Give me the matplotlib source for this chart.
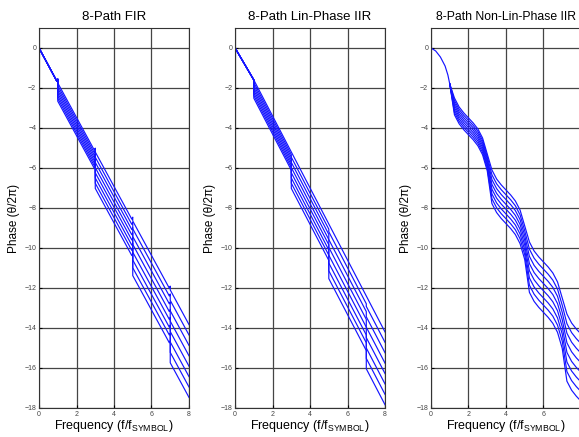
import matplotlib
matplotlib.use("Agg")
import matplotlib.pyplot as plt

plt.rcParams['font.family'] = ['Liberation Sans', 'DejaVu Sans']
plt.rcParams['mathtext.fontset'] = 'custom'
plt.rcParams['mathtext.rm'] = 'Liberation Sans'
plt.rcParams['mathtext.it'] = 'Liberation Sans'

titles = ["8-Path FIR", "8-Path Lin-Phase IIR", "8-Path Non-Lin-Phase IIR"]
x_ticks = [0, 2, 4, 6, 8]
y_ticks = [0, -2, -4, -6, -8, -10, -12, -14, -16, -18]

# FIR: each path has a small tick and a step at the odd frequencies
fir_x = [0, 0.95, 1.0, 1.0, 2.95, 3.0, 3.0, 4.95, 5.0, 5.0, 6.95, 7.0, 7.0, 8.0]
fir_paths = [
    [0, -1.66, -1.56, -1.75, -5.11, -5.01, -5.20, -8.56, -8.46, -8.65, -12.01, -11.91, -12.10, -13.83],
    [0, -1.66, -1.56, -1.88, -5.24, -5.14, -5.46, -8.82, -8.72, -9.04, -12.40, -12.30, -12.62, -14.35],
    [0, -1.66, -1.56, -2.01, -5.37, -5.27, -5.72, -9.08, -8.98, -9.43, -12.79, -12.69, -13.14, -14.87],
    [0, -1.66, -1.56, -2.14, -5.50, -5.40, -5.98, -9.34, -9.24, -9.82, -13.18, -13.08, -13.66, -15.39],
    [0, -1.66, -1.56, -2.27, -5.63, -5.53, -6.24, -9.60, -9.50, -10.21, -13.57, -13.47, -14.18, -15.91],
    [0, -1.66, -1.56, -2.40, -5.76, -5.66, -6.50, -9.86, -9.76, -10.60, -13.96, -13.86, -14.70, -16.43],
    [0, -1.66, -1.56, -2.53, -5.89, -5.79, -6.76, -10.12, -10.02, -10.99, -14.35, -14.25, -15.22, -16.95],
    [0, -1.66, -1.56, -2.66, -6.02, -5.92, -7.02, -10.38, -10.28, -11.38, -14.74, -14.64, -15.74, -17.47],
]

# linear-phase IIR: straight pieces with steps at odd frequencies
lin_x = [0, 1, 1, 3, 3, 5, 5, 7, 7, 8]
lin_paths = [
    [0, -1.6, -1.60, -5.20, -5.20, -8.80, -8.80, -12.40, -12.40, -14.20],
    [0, -1.6, -1.73, -5.33, -5.46, -9.06, -9.19, -12.79, -12.92, -14.72],
    [0, -1.6, -1.86, -5.46, -5.72, -9.32, -9.58, -13.18, -13.44, -15.24],
    [0, -1.6, -1.99, -5.59, -5.98, -9.58, -9.97, -13.57, -13.96, -15.76],
    [0, -1.6, -2.12, -5.72, -6.24, -9.84, -10.36, -13.96, -14.48, -16.28],
    [0, -1.6, -2.25, -5.85, -6.50, -10.10, -10.75, -14.35, -15.00, -16.80],
    [0, -1.6, -2.38, -5.98, -6.76, -10.36, -11.14, -14.74, -15.52, -17.32],
    [0, -1.6, -2.51, -6.11, -7.02, -10.62, -11.53, -15.13, -16.04, -17.84],
]

# non-linear-phase IIR: common start, then 8 wavy paths
nlp_head_x = [0, 0.25, 0.5, 0.75, 0.9, 1.0]
nlp_head_y = [0, -0.15, -0.45, -0.9, -1.35, -1.8]
nlp_x = [1.0, 1.25, 1.5, 1.75, 2.0, 2.25, 2.5, 2.75, 3.0,
         3.25, 3.5, 3.75, 4.0, 4.25, 4.5, 4.75, 5.0,
         5.25, 5.5, 5.75, 6.0, 6.25, 6.5, 6.75, 7.0,
         7.25, 7.5, 7.75, 8.0]
nlp_paths = [
    [-1.8, -2.50, -2.95, -3.25, -3.50, -3.75, -4.05, -4.50, -5.30,
     -6.10, -6.55, -6.85, -7.10, -7.35, -7.65, -8.10, -8.90,
     -9.70, -10.15, -10.45, -10.70, -10.95, -11.25, -11.70, -12.50,
     -13.30, -13.75, -14.05, -14.30],
    [-1.8, -2.62, -3.07, -3.37, -3.62, -3.87, -4.17, -4.62, -5.42,
     -6.34, -6.79, -7.09, -7.34, -7.59, -7.89, -8.34, -9.14,
     -10.06, -10.51, -10.81, -11.06, -11.31, -11.61, -12.06, -12.86,
     -13.78, -14.23, -14.53, -14.78],
    [-1.8, -2.74, -3.19, -3.49, -3.74, -3.99, -4.29, -4.74, -5.54,
     -6.58, -7.03, -7.33, -7.58, -7.83, -8.13, -8.58, -9.38,
     -10.42, -10.87, -11.17, -11.42, -11.67, -11.97, -12.42, -13.22,
     -14.26, -14.71, -15.01, -15.26],
    [-1.8, -2.86, -3.31, -3.61, -3.86, -4.11, -4.41, -4.86, -5.66,
     -6.82, -7.27, -7.57, -7.82, -8.07, -8.37, -8.82, -9.62,
     -10.78, -11.23, -11.53, -11.78, -12.03, -12.33, -12.78, -13.58,
     -14.74, -15.19, -15.49, -15.74],
    [-1.8, -2.98, -3.43, -3.73, -3.98, -4.23, -4.53, -4.98, -5.78,
     -7.06, -7.51, -7.81, -8.06, -8.31, -8.61, -9.06, -9.86,
     -11.14, -11.59, -11.89, -12.14, -12.39, -12.69, -13.14, -13.94,
     -15.22, -15.67, -15.97, -16.22],
    [-1.8, -3.10, -3.55, -3.85, -4.10, -4.35, -4.65, -5.10, -5.90,
     -7.30, -7.75, -8.05, -8.30, -8.55, -8.85, -9.30, -10.10,
     -11.50, -11.95, -12.25, -12.50, -12.75, -13.05, -13.50, -14.30,
     -15.70, -16.15, -16.45, -16.70],
    [-1.8, -3.22, -3.67, -3.97, -4.22, -4.47, -4.77, -5.22, -6.02,
     -7.54, -7.99, -8.29, -8.54, -8.79, -9.09, -9.54, -10.34,
     -11.86, -12.31, -12.61, -12.86, -13.11, -13.41, -13.86, -14.66,
     -16.18, -16.63, -16.93, -17.18],
    [-1.8, -3.34, -3.79, -4.09, -4.34, -4.59, -4.89, -5.34, -6.14,
     -7.78, -8.23, -8.53, -8.78, -9.03, -9.33, -9.78, -10.58,
     -12.22, -12.67, -12.97, -13.22, -13.47, -13.77, -14.22, -15.02,
     -16.66, -17.11, -17.41, -17.66],
]

fig = plt.figure(figsize=(5.79, 4.37), dpi=100)
lefts = [0.0674, 0.406, 0.7444]
axes = [fig.add_axes([l, 0.0664, 0.259, 0.8696]) for l in lefts]

blue = '#1414ff'
for p in fir_paths:
    axes[0].plot(fir_x, p, color=blue, lw=0.85)
for p in lin_paths:
    axes[1].plot(lin_x, p, color=blue, lw=0.85)
axes[2].plot(nlp_head_x, nlp_head_y, color=blue, lw=0.85)
for p in nlp_paths:
    axes[2].plot(nlp_x, p, color=blue, lw=0.85)

for i, ax in enumerate(axes):
    ax.set_xlim(0, 8)
    ax.set_ylim(-18, 1)
    ax.set_xticks(x_ticks)
    ax.set_yticks(y_ticks)
    ax.grid(True, color='#454545', lw=0.9)
    ax.set_axisbelow(True)
    ax.tick_params(labelsize=5, length=2, direction='in', pad=2,
                   labelcolor='#444444')
    for s in ax.spines.values():
        s.set_color('#333333')
        s.set_linewidth(0.8)
    ax.set_title(titles[i], fontsize=9.5 if i < 2 else 8.8, pad=6)
    ax.set_ylabel("Phase (θ/2π)", fontsize=8.5, labelpad=3)
    ax.set_xlabel(r"Frequency (f/f$_{\mathrm{SYMBOL}}$)", fontsize=9, labelpad=0)

fig.savefig("out.png", dpi=100)
